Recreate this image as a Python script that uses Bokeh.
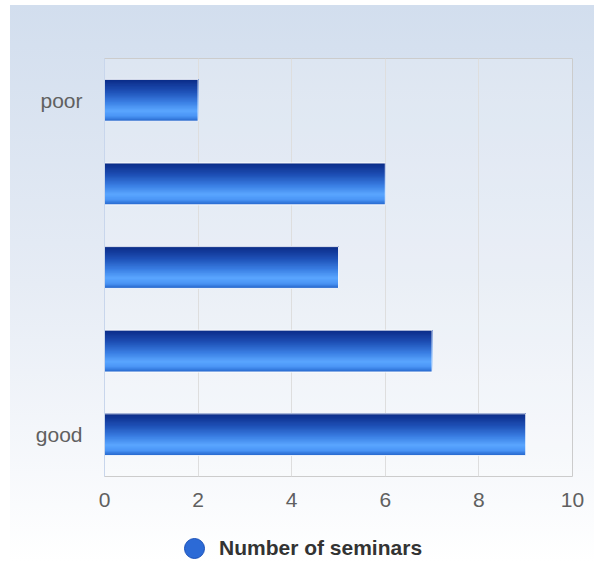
from bokeh.plotting import figure
from bokeh.layouts import column
from bokeh.models import (ColumnDataSource, FactorRange, Range1d, Legend, LegendItem,
                          FixedTicker)
from bokeh.transform import dodge
from bokeh.embed import file_html
from bokeh.resources import INLINE

# ---- data ----
labels = ["poor", "", "", "", "good"]          # top to bottom as shown
values = [2, 6, 5, 7, 9]
series_name = "Number of seminars"
x_ticks = [0, 2, 4, 6, 8, 10]

# unique factor keys (blank labels kept distinct), bottom to top for bokeh
keys = [lab if lab else " " * (i + 1) for i, lab in enumerate(labels)]
factors = list(reversed(keys))
src = ColumnDataSource(dict(cat=keys, value=values))

FONT = "Liberation Sans"

p = figure(width=584, height=506, output_backend="svg", toolbar_location=None,
           y_range=FactorRange(factors=factors, range_padding=0),
           x_range=Range1d(0, 10),
           min_border_left=94, min_border_right=22, min_border_top=53, min_border_bottom=35)
p.border_fill_alpha = 0
p.background_fill_color = "white"
p.background_fill_alpha = 0.18
p.outline_line_color = "#cccccc"
p.outline_line_width = 1

# gradient bars built from nested strips (top aligned)
stops = [(0.0, (10, 42, 134)), (0.3, (31, 82, 184)), (0.55, (59, 128, 228)),
         (0.75, (90, 166, 255)), (0.88, (74, 148, 245)), (1.0, (34, 99, 201))]

def col_at(t):
    for (t0, c0), (t1, c1) in zip(stops[:-1], stops[1:]):
        if t0 <= t <= t1:
            f = (t - t0) / (t1 - t0)
            c = [int(round(a + (b - a) * f)) for a, b in zip(c0, c1)]
            return "#%02x%02x%02x" % tuple(c)
    return "#%02x%02x%02x" % stops[-1][1]

BAR_H = 0.5
N = 36
for k in range(N, 0, -1):
    frac = k / N
    hh = BAR_H * frac
    off = BAR_H / 2 - hh / 2
    p.hbar(y=dodge("cat", off, range=p.y_range), left=0, right="value",
           height=hh, fill_color=col_at((k - 0.5) / N), line_color=None, source=src)
p.hbar(y="cat", left=0, right="value", height=BAR_H, fill_alpha=0,
       line_color="white", line_alpha=0.9, line_width=1, source=src)

# axes
p.xaxis.ticker = FixedTicker(ticks=x_ticks)
for ax in (p.xaxis[0], p.yaxis[0]):
    ax.major_tick_line_color = None
    ax.minor_tick_line_color = None
    ax.major_label_text_font = FONT
    ax.major_label_text_font_size = "21px"
    ax.major_label_text_color = "#606060"
p.xaxis.axis_line_color = None
p.yaxis.axis_line_color = "#c8d6ec"
p.xaxis.major_label_standoff = 10
p.yaxis.major_label_standoff = 16

p.xgrid.grid_line_color = "#dedede"
p.ygrid.grid_line_color = None

# legend strip (separate small figure so it is not clipped)
lg = figure(width=584, height=51, output_backend="svg", toolbar_location=None,
            x_range=Range1d(0, 1), y_range=Range1d(0, 1),
            x_axis_location=None, y_axis_location=None,
            min_border=0, min_border_left=0, min_border_right=0,
            min_border_top=0, min_border_bottom=0)
lg.border_fill_alpha = 0
lg.background_fill_alpha = 0
lg.outline_line_color = None
lg.xgrid.visible = False
lg.ygrid.visible = False
nan = float("nan")
r1 = lg.scatter(x=[nan], y=[nan], size=20, marker="circle",
                fill_color="#2c6ad6", line_color="#1a50b8", line_width=1)
legend = Legend(items=[LegendItem(label=series_name, renderers=[r1])],
                location=(65, -11), orientation="horizontal",
                glyph_width=50, glyph_height=50, label_standoff=0,
                padding=0, margin=0, border_line_color=None, background_fill_alpha=0,
                label_text_font=FONT, label_text_font_size="21px",
                label_text_font_style="bold", label_text_color="#333333")
lg.add_layout(legend)

layout = column(p, lg, spacing=0)
layout.styles = {"background": "linear-gradient(to bottom, #d2deee 0%, #e6ecf5 50%, #ffffff 100%)",
                 "margin-left": "10px", "margin-top": "5px"}

open("out.html", "w").write(file_html(layout, INLINE))
